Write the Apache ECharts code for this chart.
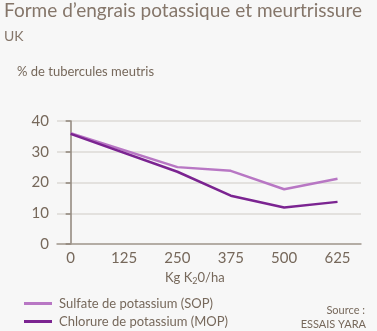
<!DOCTYPE html>
<html><head><meta charset="utf-8">
<script src="https://cdn.jsdelivr.net/npm/echarts@6/dist/echarts.min.js"></script>
<style>html,body{margin:0;padding:0;background:#f7f7f7}#c{width:377px;height:331px}</style>
</head><body><div id="c"></div>
<script>
const doses = [0, 250, 375, 500, 625];
const tickLabels = [0, 125, 250, 375, 500, 625];
const sop = [36, 25, 23.8, 17.8, 21.2];
const mop = [35.8, 23.5, 15.7, 11.9, 13.7];
const seriesNames = ['Sulfate de potassium (SOP)', 'Chlorure de potassium (MOP)'];
const FONT = 'Lato';
const TXT = '#76685b';
const legendBase = {
  orient: 'vertical', left: 19, itemWidth: 28, itemHeight: 3, icon: 'rect',
  textStyle: {color: TXT, fontSize: 13, fontFamily: FONT, padding: [0,0,0,2]}
};
const chart = echarts.init(document.getElementById('c'));
chart.setOption({
  backgroundColor: '#f7f7f7',
  animation: false,
  textStyle: {fontFamily: FONT},
  grid: {left: 57, right: 16, top: 121, bottom: 87},
  xAxis: {
    type: 'value', min: -32, max: 680,
    axisLine: {show: true, lineStyle: {color: '#a59c93', width: 1.5}},
    axisTick: {show: false},
    splitLine: {show: false},
    axisLabel: {customValues: tickLabels, color: TXT, fontSize: 15, margin: 7, fontFamily: FONT}
  },
  yAxis: {
    type: 'value', min: 0, max: 40, interval: 10,
    axisLine: {show: true, lineStyle: {color: '#8f847a', width: 1.5}},
    axisTick: {show: true, length: 5, lineStyle: {color: '#8f847a', width: 1.5}},
    splitLine: {show: true, lineStyle: {color: '#dcdad6', width: 1.5}},
    axisLabel: {color: TXT, fontSize: 15, margin: 8, fontFamily: FONT}
  },
  legend: [
    Object.assign({}, legendBase, {top: 292, data: [seriesNames[0]]}),
    Object.assign({}, legendBase, {top: 310, data: [seriesNames[1]]})
  ],
  series: [
    {name: seriesNames[0], type: 'line', showSymbol: false, symbol: 'none',
     data: doses.map((d, i) => [d, sop[i]]),
     lineStyle: {color: '#b877c4', width: 2.5}, itemStyle: {color: '#b877c4'}},
    {name: seriesNames[1], type: 'line', showSymbol: false, symbol: 'none',
     data: doses.map((d, i) => [d, mop[i]]),
     lineStyle: {color: '#7b2491', width: 2.5}, itemStyle: {color: '#7b2491'}}
  ],
  graphic: [
    {type: 'text', left: 4, top: 1, style: {text: 'Forme d’engrais potassique et meurtrissure', fill: '#85766a', font: '19px ' + FONT}},
    {type: 'text', left: 4, top: 29, style: {text: 'UK', fill: '#85766a', font: '14px ' + FONT}},
    {type: 'text', left: 17, top: 65, style: {text: '% de tubercules meutris', fill: TXT, font: '13px ' + FONT}},
    {type: 'text', left: 165, top: 271, style: {
      text: '{a|Kg K}{s|2}{a|0/ha}',
      rich: {a: {fill: TXT, fontSize: 13, fontFamily: FONT}, s: {fill: TXT, fontSize: 9, fontFamily: FONT, padding: [7,0,0,0]}}
    }},
    {type: 'text', right: 12, top: 305, style: {text: 'Source :', fill: TXT, font: '11px ' + FONT, align: 'right'}},
    {type: 'text', right: 11, top: 319, style: {text: 'ESSAIS YARA', fill: TXT, font: '11px ' + FONT, align: 'right'}}
  ]
});
</script></body></html>
